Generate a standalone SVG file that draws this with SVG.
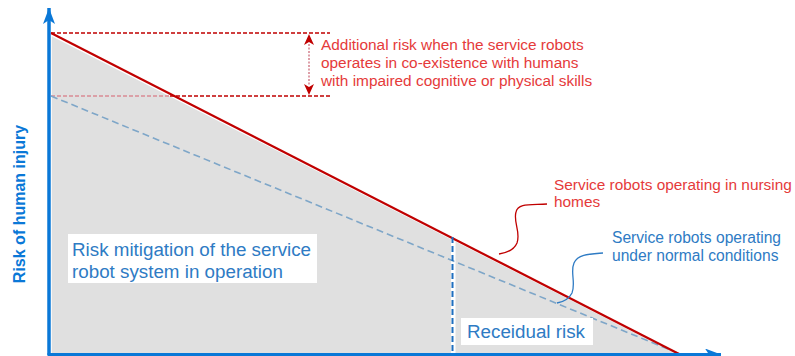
<svg xmlns="http://www.w3.org/2000/svg" width="795" height="356" viewBox="0 0 795 356">
<style>
.t{font-family:"Liberation Sans","DejaVu Sans",sans-serif}
.red{fill:#e53a3a;font-size:15.4px}
.blu{fill:#2e7bc4;font-size:15.6px}
.big{fill:#2e7bc4;font-size:18.8px}
</style>
<defs>
<marker id="ah" markerWidth="18" markerHeight="12" refX="16" refY="6" orient="auto" markerUnits="userSpaceOnUse">
<path d="M0,0 L16,6 L0,12 L4,6 Z" fill="#0a78d7"/>
</marker>
</defs>
<rect width="795" height="356" fill="#fff"/>
<g id="area">
<polygon points="51,35 680,355 51,355" fill="#e0e0e0" stroke="#fff" stroke-width="1.5"/>
<rect x="451" y="234" width="4.5" height="122" fill="#fff"/>
</g>
<g id="connectors">
<line x1="51" y1="96" x2="170" y2="96" stroke="#d98a94" stroke-width="1.5" stroke-dasharray="4,2"/>
<line x1="170" y1="96" x2="330" y2="96" stroke="#c00000" stroke-width="1.5" stroke-dasharray="4,2"/>
<line x1="51" y1="33" x2="330" y2="33" stroke="#c00000" stroke-width="1.5" stroke-dasharray="4,2"/>
<line x1="309" y1="44" x2="309" y2="86" stroke="#c86070" stroke-width="1.2" stroke-dasharray="2,1.5"/>
<path d="M309,34 L304,45 L309,42 L314,45 Z" fill="#c00000"/>
<path d="M309,95 L304,84 L309,87 L314,84 Z" fill="#c00000"/>
<line x1="51" y1="96" x2="680" y2="354" stroke="#7ea6c8" stroke-width="1.6" stroke-dasharray="7,4"/>
<line x1="51" y1="33" x2="681" y2="355" stroke="#c00000" stroke-width="2.2"/>
<line x1="452.5" y1="237" x2="452.5" y2="354" stroke="#1f6fbf" stroke-width="2" stroke-dasharray="6,3"/>
<path d="M547,204 C530,205 518,203 516,212 C513,222 521,232 517,243 C514,250 506,253 499,254" fill="none" stroke="#c00000" stroke-width="1.3"/>
<path d="M603,253 C590,254 578,254 574,263 C570,272 576,283 572,293 C569,299 563,302 557,303" fill="none" stroke="#2e7bc4" stroke-width="1.3"/>
<line x1="49" y1="355" x2="49" y2="8" stroke="#0a78d7" stroke-width="3.5" marker-end="url(#ah)"/>
<line x1="47.5" y1="354.5" x2="721" y2="354.5" stroke="#0a78d7" stroke-width="3" marker-end="url(#ah)"/>
</g>
<g id="label-additional">
<text class="t red" x="321" y="50">Additional risk when the service robots</text>
<text class="t red" x="321" y="68">operates in co-existence with humans</text>
<text class="t red" x="321" y="86">with impaired cognitive or physical skills</text>
</g>
<g id="label-nursing">
<text class="t red" x="554" y="190">Service robots operating in nursing</text>
<text class="t red" x="554" y="207">homes</text>
</g>
<g id="label-normal">
<text class="t blu" x="612" y="243">Service robots operating</text>
<text class="t blu" x="612" y="261">under normal conditions</text>
</g>
<g id="label-mitigation">
<rect x="68" y="234" width="249" height="49" fill="#fff"/>
<text class="t big" x="72" y="256">Risk mitigation of the service</text>
<text class="t big" x="72" y="278">robot system in operation</text>
</g>
<g id="label-residual">
<rect x="461" y="318" width="132" height="27" fill="#fff"/>
<text class="t big" x="467" y="338">Receidual risk</text>
</g>
<g id="axis-label">
<text class="t" x="0" y="0" transform="translate(25,204) rotate(-90)" text-anchor="middle" font-size="16" font-weight="bold" fill="#0a78d7">Risk of human injury</text>
</g>
</svg>
